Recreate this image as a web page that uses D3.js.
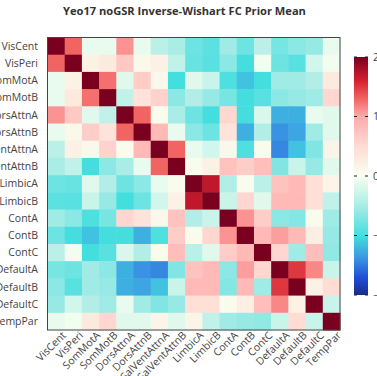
<!DOCTYPE html>
<html>
<head>
<meta charset="utf-8">
<script src="https://cdn.jsdelivr.net/npm/d3@7"></script>
<style>
  html, body { margin: 0; padding: 0; background: #fff; }
  text { font-family: "Open Sans", sans-serif; }
</style>
</head>
<body>
<div id="chart"></div>
<script>
// network labels (same order on both axes)
var networks = ["VisCent", "VisPeri", "SomMotA", "SomMotB", "DorsAttnA", "DorsAttnB",
  "SalVentAttnA", "SalVentAttnB", "LimbicA", "LimbicB", "ContA", "ContB", "ContC",
  "DefaultA", "DefaultB", "DefaultC", "TempPar"];

// prior mean values (row = y label, col = x label)
var values = [
  [2, 1.3, -0.1, -0.1, 1.1, -0.1, -0.4, -0.5, -0.8, -0.88, -0.55, -0.8, -0.4, -0.75, -0.65, -0.6, -0.1],
  [1.3, 2, 0.2, 0.3, 0.7, 0.1, 0.2, -0.35, -0.82, -0.9, -0.65, -1.0, -0.05, -0.8, -0.9, -0.25, -0.05],
  [-0.1, 0.2, 2, 1.25, -0.15, 0.65, 0.1, -1.0, -0.15, -0.3, -0.95, -1.15, -1.0, -0.55, -0.55, -0.45, 0.3],
  [-0.1, 0.3, 1.25, 2, -0.35, 0.4, 0.6, -0.65, -0.45, -0.6, -0.75, -1.0, -0.9, -0.65, -0.6, -0.55, 0.55],
  [1.1, 0.7, -0.15, -0.35, 2, 1.3, 0.05, -0.5, -0.8, -1.0, 0.55, -1.0, -0.2, -1.25, -1.25, -0.1, -0.15],
  [-0.1, 0.1, 0.65, 0.4, 1.3, 2, 0.85, -0.1, -0.65, -0.8, 0.4, -1.25, -0.45, -1.4, -1.3, -0.55, -0.15],
  [-0.4, 0.2, 0.1, 0.6, 0.05, 0.85, 2, 1.3, -0.1, -0.25, 0.1, -0.95, 0.05, -1.45, -1.15, -0.7, 0.15],
  [-0.5, -0.35, -1.0, -0.65, -0.5, -0.1, 1.3, 2, 0.05, 0.2, 0.75, 0.65, 0.8, -0.7, -0.3, -0.6, -0.15],
  [-0.8, -0.82, -0.15, -0.45, -0.8, -0.65, -0.1, 0.05, 2, 1.7, -0.45, 0.05, -0.4, 0.75, 0.85, 0.45, 0.15],
  [-0.88, -0.9, -0.3, -0.6, -1.0, -0.8, -0.25, 0.2, 1.7, 2, -0.3, 0.55, -0.15, 0.85, 0.85, 0.45, -0.35],
  [-0.55, -0.65, -0.95, -0.75, 0.55, 0.4, 0.1, 0.75, -0.45, -0.3, 2, 1.1, 0.65, -0.65, -0.68, 0.05, -0.55],
  [-0.8, -1.0, -1.15, -1.0, -1.0, -1.25, -0.95, 0.65, 0.05, 0.55, 1.1, 2, 0.85, 1.05, 0.85, 0.25, -0.6],
  [-0.4, -0.05, -1.0, -0.9, -0.2, -0.45, 0.05, 0.8, -0.4, -0.15, 0.65, 0.85, 2, 0.55, -0.55, 0.8, -0.62],
  [-0.75, -0.8, -0.55, -0.65, -1.25, -1.4, -1.45, -0.7, 0.75, 0.85, -0.65, 1.05, 0.55, 2, 1.5, 1.15, -0.3],
  [-0.65, -0.9, -0.55, -0.6, -1.25, -1.3, -1.15, -0.3, 0.85, 0.85, -0.68, 0.85, -0.55, 1.5, 2, 0.2, 0.5],
  [-0.6, -0.25, -0.45, -0.55, -0.1, -0.55, -0.7, -0.6, 0.45, 0.45, 0.05, 0.25, 0.8, 1.15, 0.2, 2, -0.3],
  [-0.1, -0.05, 0.3, 0.55, -0.15, -0.15, 0.15, -0.15, 0.15, -0.35, -0.55, -0.6, -0.62, -0.3, 0.5, -0.3, 2]
];

// colour scale stops
var colorStops = [-2, -1.7, -1.4, -1, -0.5, 0, 0.5, 1, 1.3, 1.6, 2];
var colorRange = ["#1a2a8c", "#2050d8", "#3a92e2", "#44dede", "#aaece6", "#f8fff0",
  "#ffdcd4", "#ffaaaa", "#f06462", "#d6202e", "#7a0020"];
var colorTicks = [2, 1, 0, -1, -2];

var title = "Yeo17 noGSR Inverse-Wishart FC Prior Mean";

var W = 377, H = 376;
var margin = {top: 37.5, left: 47.5};
var size = 292.5;

var svg = d3.select("#chart").append("svg")
  .attr("width", W)
  .attr("height", H);

var x = d3.scaleBand().domain(networks).range([margin.left, margin.left + size]);
var y = d3.scaleBand().domain(networks).range([margin.top, margin.top + size]);
var color = d3.scaleLinear().domain(colorStops).range(colorRange).clamp(true);

// cells
var cells = [];
values.forEach(function(row, i) {
  row.forEach(function(v, j) {
    cells.push({r: networks[i], c: networks[j], v: v});
  });
});

svg.append("g").selectAll("rect")
  .data(cells)
  .enter().append("rect")
    .attr("x", function(d) { return x(d.c); })
    .attr("y", function(d) { return y(d.r); })
    .attr("width", x.bandwidth() + 0.5)
    .attr("height", y.bandwidth() + 0.5)
    .attr("fill", function(d) { return color(d.v); });

// frame
svg.append("rect")
  .attr("x", margin.left)
  .attr("y", margin.top)
  .attr("width", size)
  .attr("height", size)
  .attr("fill", "none")
  .attr("stroke", "#444")
  .attr("stroke-width", 1);

// y labels
svg.append("g").selectAll("text")
  .data(networks)
  .enter().append("text")
    .attr("x", margin.left - 9.5)
    .attr("y", function(d) { return y(d) + y.bandwidth() / 2; })
    .attr("dy", "0.35em")
    .attr("text-anchor", "end")
    .attr("font-size", 10.5)
    .attr("fill", "#444")
    .text(function(d) { return d; });

// x labels, angled
svg.append("g").selectAll("text")
  .data(networks)
  .enter().append("text")
    .attr("transform", function(d) {
      return "translate(" + (x(d) + x.bandwidth() / 2 + 10.5) + "," + (margin.top + size + 6) + ") rotate(-45)";
    })
    .attr("text-anchor", "end")
    .attr("font-size", 10.5)
    .attr("fill", "#444")
    .text(function(d) { return d; });

// colour bar
var cb = {x: 354, y: 57, w: 14, h: 238};
var cbScale = d3.scaleLinear().domain([-2, 2]).range([cb.y + cb.h, cb.y]);

var grad = svg.append("defs").append("linearGradient")
  .attr("id", "cbgrad")
  .attr("x1", 0).attr("y1", 1).attr("x2", 0).attr("y2", 0);
grad.selectAll("stop")
  .data(colorStops)
  .enter().append("stop")
    .attr("offset", function(d) { return (d + 2) / 4; })
    .attr("stop-color", function(d) { return color(d); });

svg.append("rect")
  .attr("x", cb.x)
  .attr("y", cb.y)
  .attr("width", cb.w)
  .attr("height", cb.h)
  .attr("fill", "url(#cbgrad)");

var cbTicks = svg.append("g").selectAll("g")
  .data(colorTicks)
  .enter().append("g")
    .attr("transform", function(d) { return "translate(0," + cbScale(d) + ")"; });
cbTicks.append("line")
  .attr("x1", cb.x).attr("x2", cb.x + 3)
  .attr("stroke", "#222");
cbTicks.append("line")
  .attr("x1", cb.x + cb.w - 3).attr("x2", cb.x + cb.w)
  .attr("stroke", "#222");
cbTicks.append("text")
  .attr("x", 373)
  .attr("dy", "0.35em")
  .attr("font-size", 10.5)
  .attr("fill", "#444")
  .text(function(d) { return d < 0 ? "\u2212" + Math.abs(d) : d; });

// title
var t = svg.append("text")
  .attr("x", 184.5)
  .attr("y", 15)
  .attr("text-anchor", "middle")
  .attr("font-weight", "bold")
  .attr("font-size", 12)
  .attr("fill", "#333")
  .text(title);
var tw = t.node().getComputedTextLength();
t.attr("font-size", 12 * 243 / tw);
</script>
</body>
</html>
